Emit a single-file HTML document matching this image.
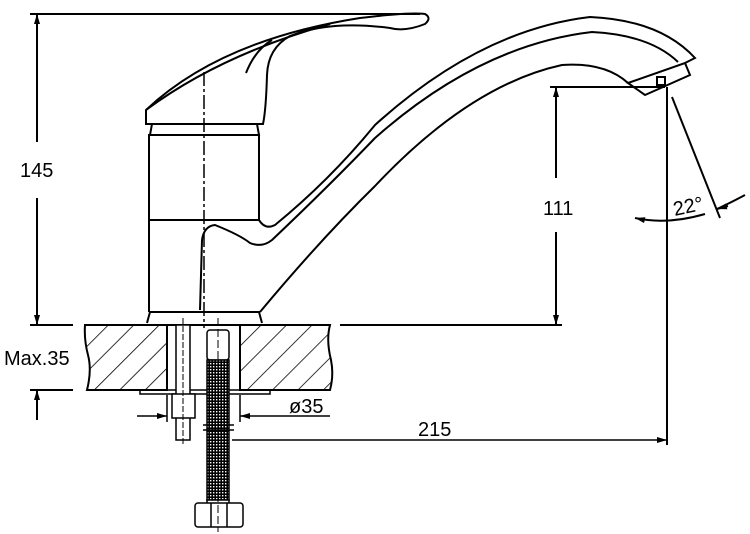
<!DOCTYPE html>
<html><head><style>
html,body{margin:0;padding:0;background:#fff;}
svg{display:block;}
text{font-family:"Liberation Sans",sans-serif;font-size:20px;fill:#000;}
</style></head><body>
<svg width="750" height="534" viewBox="0 0 750 534" xmlns="http://www.w3.org/2000/svg">
<defs>
<pattern id="h" width="18" height="18" patternUnits="userSpaceOnUse" patternTransform="rotate(45)">
<line x1="0" y1="0" x2="0" y2="18" stroke="#000" stroke-width="1.6"/>
</pattern>
<pattern id="m" width="3" height="3" patternUnits="userSpaceOnUse">
<rect width="3" height="3" fill="#000"/><rect width="1.4" height="1.4" fill="#fff"/>
</pattern>
<marker id="a" viewBox="0 0 10 6" refX="10" refY="3" markerWidth="10" markerHeight="6" orient="auto-start-reverse" markerUnits="userSpaceOnUse">
<path d="M0,0 L10,3 L0,6 Z" fill="#000"/>
</marker>
</defs>
<g fill="none" stroke="#000" stroke-width="2">
<line x1="30" y1="14" x2="420" y2="14"/>
<line x1="37" y1="14" x2="37" y2="142" marker-start="url(#a)"/>
<line x1="37" y1="198" x2="37" y2="325" marker-end="url(#a)"/>
<path d="M146,110 Q220,40 360,18 Q410,12 425,14 Q432,18 425,24 Q405,32 390,28 Q330,20 290,36 Q268,48 267,75 Q266,110 263,124 L146,124 Z"/>
<path d="M146,110 Q220,55 330,24"/>
<path d="M246,73 Q255,50 272,40"/>
<path d="M152,124 L150,135 L259,135 L257,124"/>
<rect x="149" y="135" width="110" height="85"/>
<line x1="149" y1="220" x2="149" y2="312"/>
<path d="M147,323 L150,312 L259,312 L262,323"/>
<path d="M259,220 Q265,230 275,225 Q330,180 375,125 Q480,30 590,17 Q660,20 695,58 L685,63"/>
<path d="M200,310 L202,240 Q204,226 215,225 Q240,235 250,243 Q262,248 272,240 Q330,185 375,138 Q480,45 592,32 Q650,35 678,62"/>
<path d="M260,312 Q320,240 375,186 Q470,85 562,65 Q605,62 628,83"/>
<path d="M628,83 L685,63 L690,75 L645,95 Z"/>
<rect x="657" y="77" width="8" height="8"/>
<line x1="550" y1="87" x2="665" y2="87"/>
<line x1="556" y1="87" x2="556" y2="178" marker-start="url(#a)"/>
<line x1="556" y1="232" x2="556" y2="325" marker-end="url(#a)"/>
<line x1="340" y1="325" x2="562" y2="325"/>
<line x1="667" y1="87" x2="667" y2="445"/>
<line x1="672" y1="97" x2="720" y2="218"/>
<path d="M635,218 Q667,225 705,214" marker-start="url(#a)"/>
<path d="M745,195 Q730,203 717,209" />
<path d="M728,206 L717,209" marker-end="url(#a)"/>
<line x1="30" y1="325" x2="73" y2="325"/>
<line x1="30" y1="390" x2="73" y2="390"/>
<line x1="37" y1="420" x2="37" y2="390" marker-end="url(#a)"/>
</g>
<line x1="204" y1="72" x2="204" y2="328" stroke="#000" stroke-width="1.5" stroke-dasharray="14,3,3,3"/>
<path d="M85,325 L167,325 L167,390 L87,390 Q92,370 88,355 Q84,340 85,325 Z" fill="url(#h)" stroke="#000" stroke-width="2"/>
<path d="M240,325 L330,325 Q326,340 331,360 Q334,375 330,390 L240,390 Z" fill="url(#h)" stroke="#000" stroke-width="2"/>
<line x1="167" y1="325" x2="240" y2="325" stroke="#000" stroke-width="2"/>
<rect x="140" y="390" width="130" height="4" fill="none" stroke="#000" stroke-width="1.5"/>
<rect x="176" y="325" width="14" height="115" fill="#fff" stroke="#000" stroke-width="1.5"/>
<rect x="172" y="394" width="23" height="24" fill="#fff" stroke="#000" stroke-width="1.5"/>
<line x1="183" y1="318" x2="183" y2="444" stroke="#000" stroke-width="1" stroke-dasharray="6,2"/>
<rect x="207" y="330" width="22" height="30" rx="3" fill="#fff" stroke="#000" stroke-width="1.5"/>
<rect x="207" y="360" width="22" height="140" fill="url(#m)" stroke="#000" stroke-width="1.5"/>
<line x1="203" y1="425" x2="234" y2="425" stroke="#000" stroke-width="1.5"/>
<line x1="203" y1="430" x2="234" y2="430" stroke="#000" stroke-width="1.5"/>
<rect x="207" y="500" width="22" height="5" fill="#fff" stroke="#000" stroke-width="1.5"/>
<rect x="195" y="503" width="48" height="24" rx="3" fill="#fff" stroke="#000" stroke-width="1.5"/>
<line x1="211" y1="503" x2="211" y2="527" stroke="#000" stroke-width="1.5"/>
<line x1="227" y1="503" x2="227" y2="527" stroke="#000" stroke-width="1.5"/>
<line x1="218" y1="318" x2="218" y2="532" stroke="#000" stroke-width="1" stroke-dasharray="8,3"/>
<g stroke="#000" stroke-width="1.5" fill="none">
<line x1="167" y1="395" x2="167" y2="422"/>
<line x1="240" y1="395" x2="240" y2="422"/>
<line x1="137" y1="416" x2="167" y2="416" marker-end="url(#a)"/>
<line x1="330" y1="416" x2="240" y2="416" marker-end="url(#a)"/>
<line x1="232" y1="440" x2="667" y2="440" marker-end="url(#a)"/>
</g>
<text x="20" y="177">145</text>
<text x="543" y="215">111</text>
<text x="673" y="213" transform="rotate(-12 688 206)">22°</text>
<text x="4" y="365">Max.35</text>
<text x="289" y="413">ø35</text>
<text x="418" y="436">215</text>
</svg>
</body></html>
